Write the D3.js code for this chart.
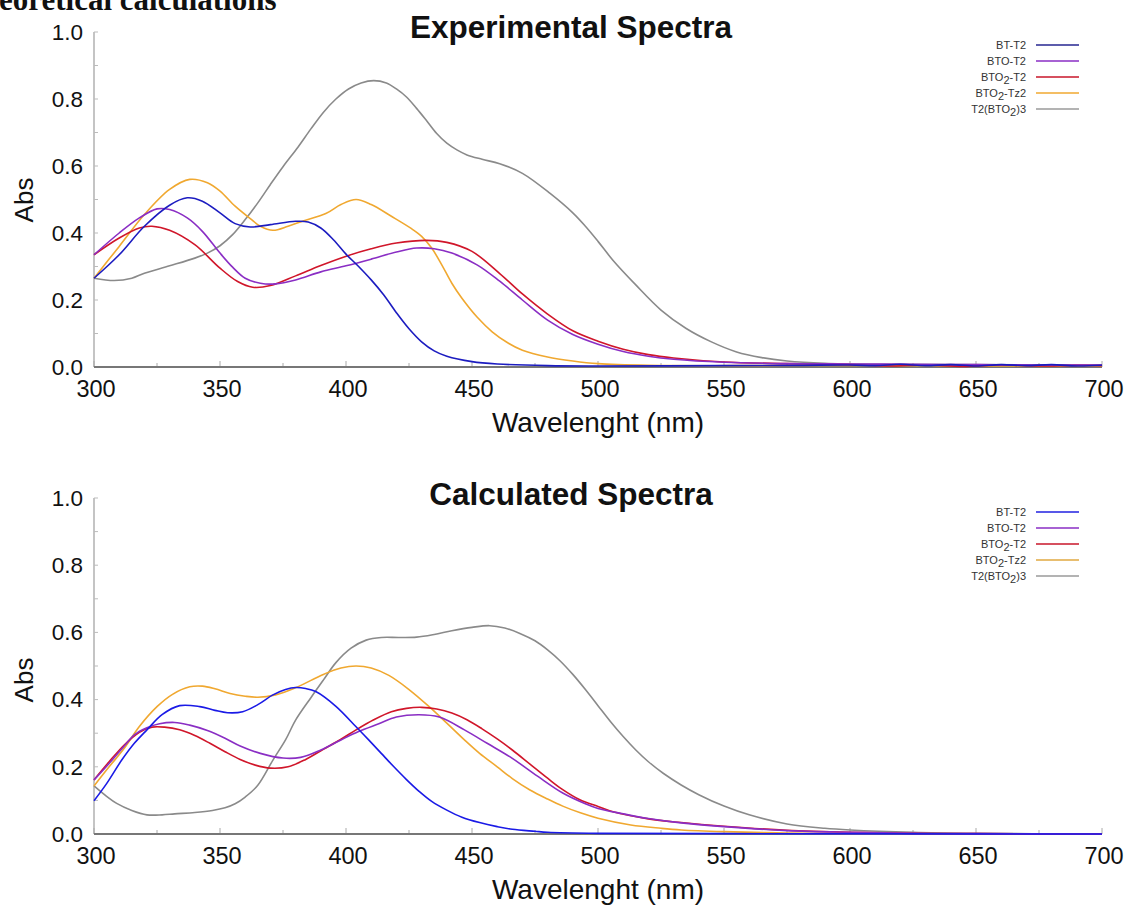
<!DOCTYPE html>
<html><head><meta charset="utf-8">
<script src="https://cdn.jsdelivr.net/npm/d3@7"></script>
<style>body{margin:0;background:#fff}svg{display:block}</style>
</head><body>
<svg id="c" width="1129" height="906"></svg>
<script>
// ---------- DATA ----------
const xTicks = [300, 350, 400, 450, 500, 550, 600, 650, 700];
const yTicks = [0.0, 0.2, 0.4, 0.6, 0.8, 1.0];
const seriesNames = ["BT-T2", "BTO-T2", "BTO2-T2", "BTO2-Tz2", "T2(BTO2)3"];

// Experimental spectra [wavelength nm, Abs]
const expBT = [[300,0.265],[310,0.335],[320,0.42],[330,0.483],[337,0.505],[343,0.495],[350,0.46],[356,0.428],[362,0.418],[370,0.425],[380,0.435],[385,0.433],[390,0.415],[395,0.38],[400,0.337],[405,0.3],[410,0.26],[415,0.215],[420,0.162],[425,0.114],[430,0.075],[435,0.048],[440,0.032],[450,0.016],[460,0.009],[480,0.004],[500,0.003],[550,0.004],[580,0.005],[600,0.006],[610,0.004],[620,0.008],[630,0.004],[640,0.007],[650,0.003],[660,0.007],[670,0.004],[680,0.007],[690,0.003],[700,0.005]];
const expBTO = [[300,0.335],[310,0.4],[318,0.445],[325,0.472],[330,0.47],[337,0.445],[343,0.405],[350,0.34],[355,0.298],[360,0.265],[366,0.25],[372,0.248],[380,0.26],[390,0.284],[400,0.302],[410,0.322],[420,0.343],[428,0.355],[435,0.353],[442,0.34],[452,0.305],[461,0.256],[470,0.2],[480,0.14],[490,0.097],[500,0.068],[510,0.046],[520,0.032],[530,0.023],[550,0.014],[575,0.01],[600,0.009],[625,0.008],[650,0.007],[675,0.006],[700,0.006]];
const expBTO2 = [[300,0.335],[310,0.385],[318,0.415],[323,0.42],[330,0.408],[340,0.365],[350,0.295],[357,0.255],[363,0.238],[370,0.243],[380,0.272],[390,0.303],[401,0.333],[410,0.353],[420,0.37],[432,0.378],[440,0.372],[450,0.345],[461,0.279],[470,0.218],[480,0.158],[490,0.108],[500,0.077],[510,0.053],[520,0.037],[530,0.027],[550,0.015],[575,0.01],[600,0.007],[615,0.003],[630,0.006],[645,0.002],[660,0.006],[675,0.003],[690,0.005],[700,0.004]];
const expTz2 = [[300,0.265],[310,0.36],[320,0.455],[330,0.53],[338,0.56],[345,0.55],[350,0.525],[356,0.48],[362,0.443],[366,0.42],[371,0.408],[377,0.42],[383,0.436],[392,0.458],[398,0.485],[404,0.5],[410,0.485],[418,0.45],[426,0.413],[430,0.39],[434,0.355],[438,0.305],[442,0.25],[446,0.205],[452,0.149],[458,0.105],[464,0.073],[470,0.05],[480,0.03],[490,0.018],[500,0.01],[520,0.005],[560,0.004],[600,0.005],[650,0.003],[700,0.003]];
const expT2 = [[300,0.265],[308,0.258],[315,0.265],[320,0.28],[330,0.302],[340,0.325],[345,0.34],[350,0.362],[355,0.395],[360,0.44],[365,0.49],[370,0.545],[375,0.598],[381,0.657],[386,0.71],[391,0.76],[396,0.8],[401,0.83],[406,0.848],[411,0.855],[416,0.848],[420,0.83],[424,0.806],[428,0.772],[432,0.735],[436,0.697],[440,0.668],[444,0.648],[448,0.633],[454,0.62],[461,0.607],[470,0.578],[481,0.518],[490,0.46],[495,0.42],[500,0.375],[506,0.318],[515,0.245],[525,0.17],[535,0.115],[545,0.075],[555,0.045],[565,0.028],[575,0.018],[590,0.011],[610,0.008],[650,0.007],[700,0.006]];

// Calculated spectra [wavelength nm, Abs]
const calcBT = [[300,0.099],[305,0.15],[311,0.22],[316,0.27],[321,0.31],[327,0.355],[334,0.382],[342,0.379],[348,0.368],[353,0.361],[359,0.364],[365,0.385],[371,0.414],[376,0.43],[380,0.436],[384,0.433],[388,0.424],[396,0.38],[404,0.319],[409,0.28],[414,0.24],[419,0.2],[424,0.162],[429,0.127],[434,0.097],[440,0.071],[446,0.05],[453,0.034],[460,0.022],[466,0.014],[475,0.008],[480,0.005],[500,0.002],[550,0.001],[700,0]];
const calcBTO = [[300,0.161],[306,0.21],[312,0.262],[316,0.295],[321,0.316],[326,0.328],[332,0.332],[338,0.324],[345,0.308],[352,0.285],[358,0.262],[366,0.24],[375,0.226],[382,0.228],[390,0.25],[398,0.28],[405,0.305],[413,0.328],[420,0.348],[429,0.355],[437,0.348],[447,0.31],[456,0.27],[466,0.225],[476,0.172],[486,0.122],[495,0.09],[500,0.076],[510,0.06],[520,0.046],[533,0.033],[550,0.022],[575,0.01],[600,0.005],[625,0.002],[650,0.001],[700,0]];
const calcBTO2 = [[300,0.161],[306,0.215],[312,0.265],[318,0.303],[323,0.318],[328,0.318],[334,0.31],[340,0.293],[346,0.27],[352,0.245],[358,0.222],[364,0.205],[370,0.196],[377,0.2],[384,0.222],[391,0.252],[398,0.282],[404,0.31],[411,0.34],[418,0.364],[424,0.374],[430,0.377],[436,0.372],[442,0.36],[448,0.34],[454,0.313],[460,0.283],[466,0.25],[473,0.208],[480,0.166],[486,0.132],[493,0.101],[500,0.082],[506,0.066],[520,0.045],[533,0.034],[550,0.023],[575,0.011],[600,0.005],[625,0.002],[650,0.001],[700,0]];
const calcTz2 = [[300,0.143],[306,0.2],[312,0.255],[318,0.32],[325,0.379],[331,0.415],[338,0.438],[343,0.44],[348,0.432],[354,0.418],[360,0.41],[365,0.407],[372,0.414],[380,0.435],[391,0.475],[398,0.494],[404,0.5],[410,0.494],[417,0.472],[425,0.43],[433,0.379],[440,0.33],[447,0.28],[453,0.24],[460,0.2],[466,0.165],[473,0.131],[480,0.104],[486,0.083],[493,0.063],[500,0.047],[513,0.027],[525,0.017],[533,0.012],[550,0.007],[575,0.003],[600,0.001],[700,0]];
const calcT2 = [[300,0.143],[305,0.112],[309,0.091],[315,0.07],[321,0.057],[327,0.057],[332,0.06],[340,0.064],[347,0.07],[352,0.078],[356,0.09],[360,0.11],[365,0.145],[371,0.22],[376,0.28],[380,0.339],[386,0.405],[391,0.458],[396,0.51],[402,0.553],[408,0.577],[414,0.585],[421,0.585],[428,0.586],[435,0.594],[442,0.605],[450,0.615],[457,0.62],[463,0.613],[469,0.597],[475,0.575],[480,0.548],[485,0.515],[490,0.475],[495,0.43],[500,0.382],[505,0.334],[510,0.29],[515,0.25],[520,0.215],[526,0.18],[533,0.146],[540,0.117],[550,0.083],[560,0.057],[575,0.03],[590,0.017],[600,0.012],[625,0.005],[650,0.002],[700,0]];

// ---------- DRAW ----------
const svg = d3.select("#c");
const F = "'Liberation Sans', Arial, sans-serif";

svg.append("text").attr("x", -1).attr("y", 10)
  .attr("font-family", "'Liberation Serif', 'Times New Roman', serif")
  .attr("font-weight", "bold").attr("font-size", 31).attr("fill", "#111")
  .text("eoretical calculations");

function panel(cfg) {
  const x = d3.scaleLinear().domain([300, 700]).range([94, 1102]);
  const y = d3.scaleLinear().domain([0, 1]).range([cfg.y0, cfg.y1]);
  const g = svg.append("g");

  g.append("line").attr("x1", x(300)).attr("x2", x(300)).attr("y1", y(1)).attr("y2", y(0))
    .attr("stroke", "#c4c4c4").attr("stroke-width", 2);
  const yAll = d3.range(0, 11).map(i => i / 10);
  g.selectAll(".yt").data(yAll).join("line")
    .attr("x1", x(300)).attr("x2", x(300) + 4)
    .attr("y1", d => y(d)).attr("y2", d => y(d))
    .attr("stroke", "#bbb").attr("stroke-width", 1);
  const xAll = d3.range(300, 701, 25);
  g.selectAll(".xt").data(xAll).join("line")
    .attr("x1", d => x(d)).attr("x2", d => x(d))
    .attr("y1", y(0)).attr("y2", d => y(0) - (d % 50 === 0 ? 6 : 4))
    .attr("stroke", "#aaa").attr("stroke-width", 1);
  g.append("line").attr("x1", x(300)).attr("x2", x(700)).attr("y1", y(0)).attr("y2", y(0))
    .attr("stroke", "#777").attr("stroke-width", 2);

  g.selectAll(".yl").data(yTicks).join("text")
    .attr("x", 83).attr("y", d => y(d)).attr("dy", "0.35em")
    .attr("text-anchor", "end").attr("font-family", F).attr("font-size", 22.5).attr("fill", "#111")
    .text(d => d.toFixed(1));
  g.selectAll(".xl").data(xTicks).join("text")
    .attr("x", d => x(d) + 2).attr("y", y(0) + 30)
    .attr("text-anchor", "middle").attr("font-family", F).attr("font-size", 23.5).attr("fill", "#111")
    .text(d => d);

  g.append("text").attr("x", 598).attr("y", y(0) + 65).attr("text-anchor", "middle")
    .attr("font-family", F).attr("font-size", 28).attr("fill", "#111").text("Wavelenght (nm)");
  g.append("text").attr("transform", `translate(33,${cfg.absY}) rotate(-90)`).attr("text-anchor", "middle")
    .attr("font-family", F).attr("font-size", 26).attr("fill", "#111").text("Abs");
  g.append("text").attr("x", 571).attr("y", cfg.titleY).attr("text-anchor", "middle")
    .attr("font-family", F).attr("font-weight", "bold").attr("font-size", 31.5).attr("fill", "#111")
    .text(cfg.title);

  const line = d3.line().x(d => x(d[0])).y(d => y(d[1])).curve(d3.curveCatmullRom.alpha(0.5));
  [4, 3, 2, 1, 0].forEach(i => {
    g.append("path").datum(cfg.data[i]).attr("fill", "none")
      .attr("stroke", cfg.colors[i]).attr("stroke-width", 1.6).attr("d", line);
  });

  const lg = g.append("g");
  seriesNames.forEach((n, i) => {
    const ly = cfg.legY + i * 16;
    lg.append("line").attr("x1", 1036).attr("x2", 1079).attr("y1", ly).attr("y2", ly)
      .attr("stroke", cfg.legColors[i]).attr("stroke-width", 1.5);
    const t = lg.append("text").attr("x", 1026).attr("y", ly + 4).attr("text-anchor", "end")
      .attr("font-family", F).attr("font-size", 11).attr("fill", "#333");
    const parts = n === "BTO2-T2" ? [["BTO",0],["2",1],["-T2",0]]
      : n === "BTO2-Tz2" ? [["BTO",0],["2",1],["-Tz2",0]]
      : n === "T2(BTO2)3" ? [["T2(BTO",0],["2",1],[")3",0]]
      : [[n,0]];
    let sub = false;
    parts.forEach(([s, isSub]) => {
      const ts = t.append("tspan").text(s);
      if (isSub && !sub) { ts.attr("dy", 3); sub = true; }
      else if (!isSub && sub) { ts.attr("dy", -3); sub = false; }
    });
  });
}

panel({
  y0: 367, y1: 32, title: "Experimental Spectra", titleY: 38, absY: 200, legY: 45,
  data: [expBT, expBTO, expBTO2, expTz2, expT2],
  colors: ["#1c1cc0", "#8a2ec4", "#d0162a", "#f0a830", "#8a8a8a"],
  legColors: ["#262690", "#8a2ec4", "#c8162a", "#f0a830", "#9a9a9a"]
});
panel({
  y0: 834, y1: 498, title: "Calculated Spectra", titleY: 505, absY: 680, legY: 512,
  data: [calcBT, calcBTO, calcBTO2, calcTz2, calcT2],
  colors: ["#1a1ae6", "#8a2ec4", "#d0162a", "#f0a830", "#8a8a8a"],
  legColors: ["#2020e0", "#8a2ec4", "#c8162a", "#e0a840", "#9a9a9a"]
});
</script>
</body></html>
